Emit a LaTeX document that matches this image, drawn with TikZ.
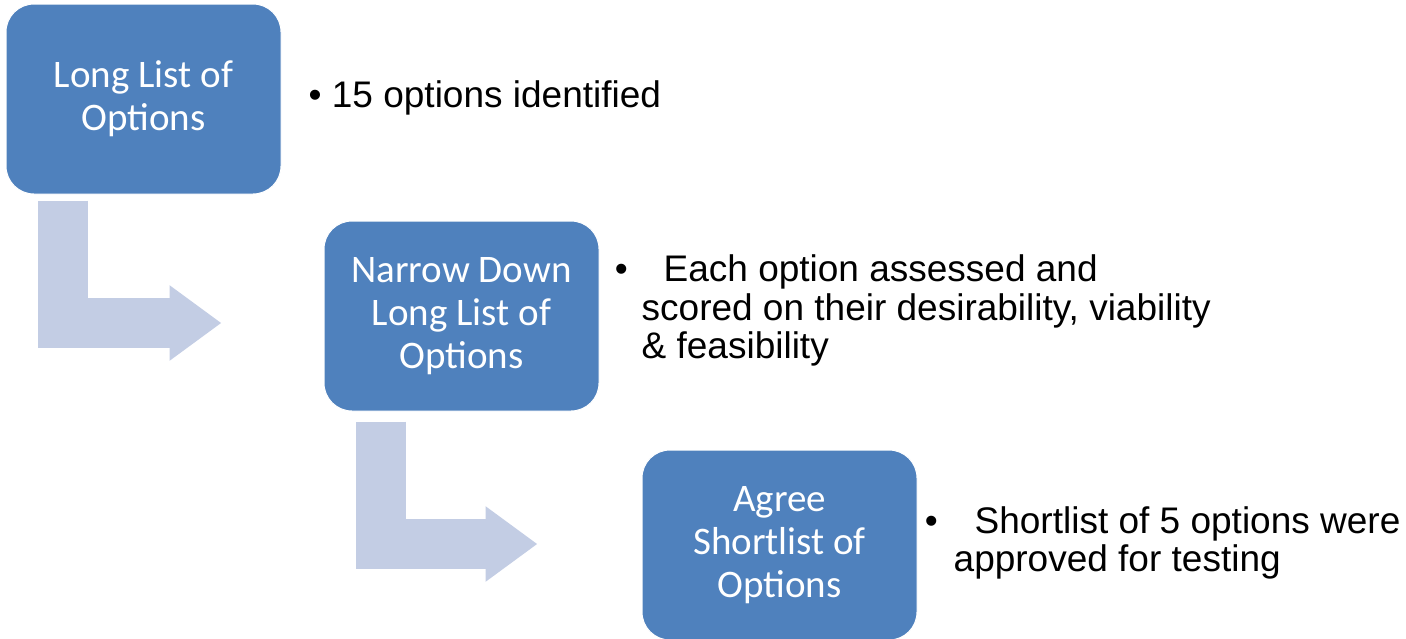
\documentclass[tikz,border=0pt]{standalone}
\usepackage{fontspec}
\setmainfont{Liberation Sans}
\newfontfamily\boxfont{Carlito}
\usepackage{tikz}
\usetikzlibrary{positioning,arrows.meta}

\definecolor{boxblue}{RGB}{79,129,189}
\definecolor{flowgrey}{RGB}{195,205,228}

\tikzset{
	stepbox/.style={rectangle,rounded corners=28pt,fill=boxblue,draw=white,line width=1pt,
		minimum width=275pt,minimum height=190pt,inner sep=0pt,
		text=white,align=center,font=\boxfont\fontsize{39}{43}\selectfont},
	note/.style={inner sep=0pt,align=left,anchor=base west,
		font=\fontsize{37}{38.5}\selectfont},
	flow/.style={draw=flowgrey,line width=50pt,line join=miter,
		-{Triangle[length=52pt,width=72pt,color=flowgrey]}}
}

\begin{document}
\begin{tikzpicture}[x=1pt,y=-1pt]
	\useasboundingbox (0,0) rectangle (1406,638);
	% steps
	\node[stepbox] (long) at (143.5,99) {Long List of\\Options};
	\node[stepbox,below right=26pt and 42pt of long] (narrow) {Narrow Down\\Long List of\\Options};
	\node[stepbox,below right=38pt and 42pt of narrow] (agree) {Agree\\Shortlist of\\Options};
	% notes (base = last line)
	\node[note] (longnote) at ([shift={(27,104)}]long.north east) {\textbullet\ 15 options identified};
	\node[note] (narrownote) at ([shift={(42,138)}]narrow.north east)
		{\llap{\textbullet\hspace{14pt}}\hspace{22pt}Each option assessed and\\scored on their desirability, viability\\\& feasibility};
	\node[note] (agreenote) at ([shift={(36,122)}]agree.north east)
		{\llap{\textbullet\hspace{16pt}}\hspace{21pt}Shortlist of 5 options were\\approved for testing};
	% bent arrows
	\coordinate (a1s) at ([shift={(57,6)}]long.south west);
	\coordinate (a1e) at ([shift={(-102,7)}]narrow.west);
	\coordinate (a2s) at ([shift={(57,10)}]narrow.south west);
	\coordinate (a2e) at ([shift={(-104,-1)}]agree.west);
	\draw[flow] (a1s) |- (a1e);
	\draw[flow] (a2s) |- (a2e);
\end{tikzpicture}
\end{document}
